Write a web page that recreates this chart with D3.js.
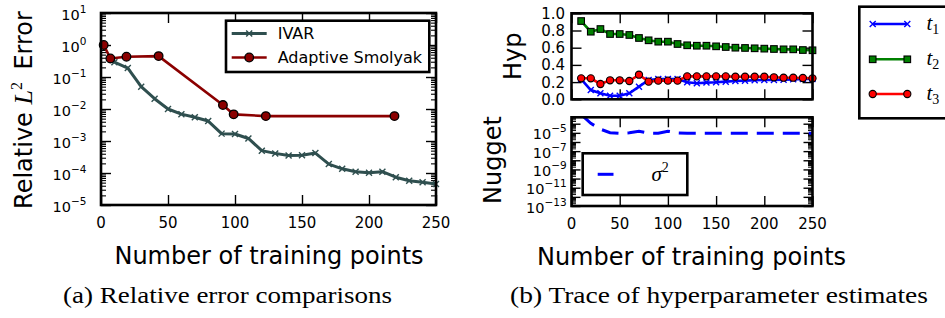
<!DOCTYPE html>
<html><head><meta charset="utf-8">
<script src="https://cdn.jsdelivr.net/npm/d3@7/dist/d3.min.js"></script>
<style>body{margin:0;background:#fff}svg{display:block}</style>
</head><body><svg id="c" width="945" height="318"></svg>
<script>
// ---------- data ----------
const xTicks = [0, 50, 100, 150, 200, 250];
const errDecades = [-5, -4, -3, -2, -1, 0, 1];
const ivarX = [5,10,20,30,40,50,60,70,80,90,100,110,120,130,140,150,160,170,180,190,200,210,220,230,240,250];
const ivarY = [0.35,0.29,0.19,0.05,0.021,0.0100,0.0069,0.0055,0.0042,0.0017,0.00165,0.0012,0.0005,0.00041,0.00035,0.00036,0.00042,0.00019,0.000135,0.00011,0.000102,0.00011,0.000074,0.000057,0.000051,0.000045];
const smolX = [2,7,19,43,91,99,123,219];
const smolY = [1.0,0.38,0.43,0.45,0.0133,0.0068,0.006,0.006];
const hypX = [10,20,30,40,50,60,70,80,90,100,110,120,130,140,150,160,170,180,190,200,210,220,230,240,250];
const t1 = [0.235,0.108,0.07,0.042,0.042,0.07,0.147,0.225,0.236,0.236,0.236,0.198,0.186,0.194,0.198,0.205,0.213,0.217,0.221,0.225,0.225,0.228,0.232,0.236,0.236];
const t2 = [0.91,0.786,0.817,0.759,0.759,0.748,0.713,0.686,0.67,0.67,0.643,0.628,0.623,0.623,0.616,0.608,0.6,0.597,0.593,0.589,0.585,0.581,0.581,0.573,0.57];
const t3 = [0.244,0.244,0.178,0.221,0.221,0.213,0.286,0.205,0.217,0.217,0.217,0.267,0.267,0.267,0.267,0.267,0.263,0.263,0.263,0.263,0.256,0.251,0.251,0.248,0.244];
const hypTicks = [0, 0.2, 0.4, 0.6, 0.8, 1.0];
const nugX = hypX;
const nugLog = [-3.0,-3.95,-4.6,-4.98,-5.05,-5.0,-4.82,-5.03,-5.05,-4.82,-5.0,-5.05,-5.05,-5.05,-5.05,-5.05,-5.05,-5.05,-5.05,-5.05,-5.05,-5.05,-5.05,-5.05,-5.05];
const nugLabelDecades = [-13, -11, -9, -7, -5];
const nugDecades = [-13,-12,-11,-10,-9,-8,-7,-6,-5,-4];

// ---------- setup ----------
const svg = d3.select("#c");
svg.append("rect").attr("width",945).attr("height",318).attr("fill","#fff");
const SANS = "DejaVu Sans", SERIF = "Liberation Serif";
const fs = 15;

const xL = d3.scaleLinear([0,250],[101,436]);
const yL = d3.scaleLog([1e-5,10],[205,13]);
const xR = d3.scaleLinear([0,250],[571.5,812.5]);
const yH = d3.scaleLinear([0,1],[99.3,13.3]);
const yN = d3.scaleLog([1e-13, Math.pow(10,-3.3)],[206,117.3]);

function minorLog(d0, d1){
  const out=[];
  for(let d=d0; d<d1; d++) for(let k=2;k<=9;k++) out.push(k*Math.pow(10,d));
  return out;
}
function styleAxis(g, sw){
  g.select(".domain").remove();
  g.selectAll(".tick line").attr("stroke","#000").attr("stroke-width",sw||1.4);
  g.selectAll(".tick text").remove();
}
function ticks(axisFn, scale, vals, len, tx, ty, sw){
  svg.append("g").attr("transform",`translate(${tx},${ty})`)
    .call(axisFn(scale).tickValues(vals).tickSize(-len).tickSizeOuter(0).tickFormat(""))
    .call(g=>styleAxis(g, sw));
}
function frame(x, y){
  const [x0,x1]=x.range(), [y0,y1]=y.range();
  svg.append("rect").attr("x",x0).attr("y",y1).attr("width",x1-x0).attr("height",y0-y1)
    .attr("fill","none").attr("stroke","#000").attr("stroke-width",2.6);
}
function xMarker(g, cx, cy, s, color, sw){
  g.append("path").attr("d",`M${cx-s},${cy-s}L${cx+s},${cy+s}M${cx-s},${cy+s}L${cx+s},${cy-s}`)
    .attr("stroke",color).attr("stroke-width",sw).attr("fill","none");
}
function supLabel(x, y, exp, size, supSize, anchor){
  const t = svg.append("text").attr("x",x).attr("y",y).attr("font-family",SANS)
    .attr("font-size",size).attr("text-anchor",anchor||"end").attr("fill","#000");
  t.append("tspan").text("10");
  t.append("tspan").attr("dy",-7).attr("font-size",supSize).text(exp<0?"\u2212"+(-exp):String(exp));
}

// ================= LEFT PANEL =================
// ticks
ticks(d3.axisBottom, xL, xTicks, 10, 0, yL.range()[0]);
ticks(d3.axisTop, xL, xTicks, 10, 0, yL.range()[1]);
const errMajor = errDecades.map(d=>Math.pow(10,d));
ticks(d3.axisLeft, yL, errMajor, 10, xL.range()[0], 0);
ticks(d3.axisRight, yL, errMajor, 10, xL.range()[1], 0);
ticks(d3.axisLeft, yL, minorLog(-5,1), 5, xL.range()[0], 0, 1.1);
ticks(d3.axisRight, yL, minorLog(-5,1), 5, xL.range()[1], 0, 1.1);

const gL = svg.append("g");
const lineL = d3.line().x(d=>xL(d[0])).y(d=>yL(d[1]));
gL.append("path").datum(ivarX.map((x,i)=>[x,ivarY[i]])).attr("d",lineL)
  .attr("fill","none").attr("stroke","#2F4F4F").attr("stroke-width",3).attr("stroke-linejoin","round");
ivarX.forEach((x,i)=>{ if(i>0) xMarker(gL, xL(x), yL(ivarY[i]), 3, "#2F4F4F", 1.4); });
gL.append("path").datum(smolX.map((x,i)=>[x,smolY[i]])).attr("d",lineL)
  .attr("fill","none").attr("stroke","#8B0000").attr("stroke-width",2.6);
smolX.forEach((x,i)=>{
  gL.append("circle").attr("cx",xL(x)).attr("cy",yL(smolY[i])).attr("r",4.3)
    .attr("fill","#8B0000").attr("stroke","#000").attr("stroke-width",1.3);
});
frame(xL, yL);

// tick labels
xTicks.forEach(v=>{
  svg.append("text").attr("x",xL(v)).attr("y",228.3).attr("text-anchor","middle")
    .attr("font-family",SANS).attr("font-size",fs).text(v);
});
errDecades.forEach(d=>supLabel(86.5, yL(Math.pow(10,d))+6.7, d, 14.5, 10.5));

// legend
svg.append("rect").attr("x",226).attr("y",20.7).attr("width",203.3).attr("height",51.3)
  .attr("fill","#fff").attr("stroke","#000").attr("stroke-width",2.6);
svg.append("line").attr("x1",231.7).attr("x2",266.7).attr("y1",33.5).attr("y2",33.5)
  .attr("stroke","#2F4F4F").attr("stroke-width",3);
xMarker(svg, 249.2, 33.5, 3, "#2F4F4F", 1.4);
svg.append("line").attr("x1",231.7).attr("x2",266.7).attr("y1",57.5).attr("y2",57.5)
  .attr("stroke","#8B0000").attr("stroke-width",2.6);
svg.append("circle").attr("cx",249.2).attr("cy",57.5).attr("r",4.3)
  .attr("fill","#8B0000").attr("stroke","#000").attr("stroke-width",1.3);
svg.append("text").attr("x",277.7).attr("y",39.3).attr("font-family",SANS).attr("font-size",16).text("IVAR");
svg.append("text").attr("x",277.7).attr("y",63.3).attr("font-family",SANS).attr("font-size",16).text("Adaptive Smolyak");

// axis labels
const yl = svg.append("text").attr("transform","translate(32,110) rotate(-90)")
  .attr("text-anchor","middle").attr("font-family",SANS).attr("font-size",24);
yl.append("tspan").text("Relative ");
yl.append("tspan").attr("font-family",SERIF).attr("font-style","italic").attr("font-size",26).text("L");
yl.append("tspan").attr("font-family",SERIF).attr("font-size",16).attr("dy",-10).text("2");
yl.append("tspan").attr("dy",10).text("\u2009 Error");
svg.append("text").attr("x",269).attr("y",263.5).attr("text-anchor","middle")
  .attr("font-family",SANS).attr("font-size",24).text("Number of training points");

// ================= RIGHT TOP (Hyp) =================
ticks(d3.axisBottom, xR, xTicks, 10, 0, yH.range()[0]);
ticks(d3.axisTop, xR, xTicks, 10, 0, yH.range()[1]);
ticks(d3.axisLeft, yH, hypTicks, 10, xR.range()[0], 0);
ticks(d3.axisRight, yH, hypTicks, 10, xR.range()[1], 0);
const gH = svg.append("g");
const lineH = d3.line().x(d=>xR(d[0])).y(d=>yH(d[1]));
function hypSeries(vals, color){
  gH.append("path").datum(hypX.map((x,i)=>[x,vals[i]])).attr("d",lineH)
    .attr("fill","none").attr("stroke",color).attr("stroke-width",2.6);
}
hypSeries(t1,"#0000FF");
hypX.forEach((x,i)=>xMarker(gH, xR(x), yH(t1[i]), 3, "#0000FF", 1.4));
hypSeries(t2,"#008000");
hypX.forEach((x,i)=>gH.append("rect").attr("x",xR(x)-3.3).attr("y",yH(t2[i])-3.3).attr("width",6.6).attr("height",6.6)
  .attr("fill","#008000").attr("stroke","#000").attr("stroke-width",1.1));
hypSeries(t3,"#FF0000");
hypX.forEach((x,i)=>gH.append("circle").attr("cx",xR(x)).attr("cy",yH(t3[i])).attr("r",3.6)
  .attr("fill","#FF0000").attr("stroke","#000").attr("stroke-width",1.1));
frame(xR, yH);
hypTicks.forEach(v=>{
  svg.append("text").attr("x",565).attr("y",yH(v)+5.4).attr("text-anchor","end")
    .attr("font-family",SANS).attr("font-size",fs).text(v.toFixed(1));
});
svg.append("text").attr("transform",`translate(521.3,${(yH.range()[0]+yH.range()[1])/2}) rotate(-90)`)
  .attr("text-anchor","middle").attr("font-family",SANS).attr("font-size",24).text("Hyp");

// ================= RIGHT BOTTOM (Nugget) =================
ticks(d3.axisBottom, xR, xTicks, 10, 0, yN.range()[0]);
ticks(d3.axisTop, xR, xTicks, 10, 0, yN.range()[1]);
const nugMajor = nugDecades.map(d=>Math.pow(10,d));
ticks(d3.axisLeft, yN, nugMajor, 9, xR.range()[0], 0);
ticks(d3.axisRight, yN, nugMajor, 9, xR.range()[1], 0);
const nugMinor = minorLog(-13,-4).concat([2e-4,3e-4,4e-4]);
ticks(d3.axisLeft, yN, nugMinor, 4.5, xR.range()[0], 0, 1.0);
ticks(d3.axisRight, yN, nugMinor, 4.5, xR.range()[1], 0, 1.0);
svg.append("clipPath").attr("id","clipN").append("rect")
  .attr("x",xR.range()[0]).attr("y",yN.range()[1]).attr("width",xR.range()[1]-xR.range()[0]).attr("height",yN.range()[0]-yN.range()[1]);
svg.append("path").attr("clip-path","url(#clipN)")
  .datum(nugX.map((x,i)=>[x,Math.pow(10,nugLog[i])]))
  .attr("d",d3.line().x(d=>xR(d[0])).y(d=>yN(d[1])))
  .attr("fill","none").attr("stroke","#0000FF").attr("stroke-width",3).attr("stroke-dasharray","17,9");
frame(xR, yN);
nugLabelDecades.forEach(d=>supLabel(566.7, yN(Math.pow(10,d))+6.5, d, 14.5, 10.5));
xTicks.forEach(v=>{
  svg.append("text").attr("x",xR(v)).attr("y",228.6).attr("text-anchor","middle")
    .attr("font-family",SANS).attr("font-size",fs).text(v);
});
svg.append("text").attr("transform",`translate(501,160) rotate(-90)`)
  .attr("text-anchor","middle").attr("font-family",SANS).attr("font-size",24).text("Nugget");
svg.append("text").attr("x",691.5).attr("y",264.5).attr("text-anchor","middle")
  .attr("font-family",SANS).attr("font-size",24).text("Number of training points");

// nugget legend
svg.append("rect").attr("x",582.7).attr("y",153.3).attr("width",104.6).attr("height",41.7)
  .attr("fill","#fff").attr("stroke","#000").attr("stroke-width",2.6);
svg.append("line").attr("x1",597.7).attr("x2",613.5).attr("y1",174.3).attr("y2",174.3)
  .attr("stroke","#0000FF").attr("stroke-width",3);
const sg = svg.append("text").attr("x",651.5).attr("y",180.5).attr("font-family",SERIF).attr("font-size",21);
sg.append("tspan").attr("font-style","italic").text("\u03C3");
sg.append("tspan").attr("dy",-9).attr("font-size",14).text("2");

// right legend
svg.append("rect").attr("x",859.3).attr("y",6.7).attr("width",100).attr("height",111.6)
  .attr("fill","#fff").attr("stroke","#000").attr("stroke-width",2.6);
const legY = [24, 59.3, 94];
const legCols = ["#0000FF","#008000","#FF0000"];
legY.forEach((yy,i)=>{
  svg.append("line").attr("x1",872.7).attr("x2",907.3).attr("y1",yy).attr("y2",yy)
    .attr("stroke",legCols[i]).attr("stroke-width",2.6);
  [872.7,907.3].forEach(xx=>{
    if(i===0) xMarker(svg, xx, yy, 3, "#0000FF", 1.4);
    if(i===1) svg.append("rect").attr("x",xx-3.3).attr("y",yy-3.3).attr("width",6.6).attr("height",6.6)
      .attr("fill","#008000").attr("stroke","#000").attr("stroke-width",1.1);
    if(i===2) svg.append("circle").attr("cx",xx).attr("cy",yy).attr("r",3.6)
      .attr("fill","#FF0000").attr("stroke","#000").attr("stroke-width",1.1);
  });
  const t = svg.append("text").attr("x",926.5).attr("y",yy+6).attr("font-family",SERIF).attr("font-size",21);
  t.append("tspan").attr("font-style","italic").text("t");
  t.append("tspan").attr("dy",4).attr("font-size",14).text(String(i+1));
});

// ================= captions =================
svg.append("text").attr("x",63).attr("y",303).attr("font-family",SERIF).attr("font-size",23)
  .attr("textLength",329).attr("lengthAdjust","spacingAndGlyphs").text("(a) Relative error comparisons");
svg.append("text").attr("x",510).attr("y",303).attr("font-family",SERIF).attr("font-size",23)
  .attr("textLength",418).attr("lengthAdjust","spacingAndGlyphs").text("(b) Trace of hyperparameter estimates");
</script></body></html>
